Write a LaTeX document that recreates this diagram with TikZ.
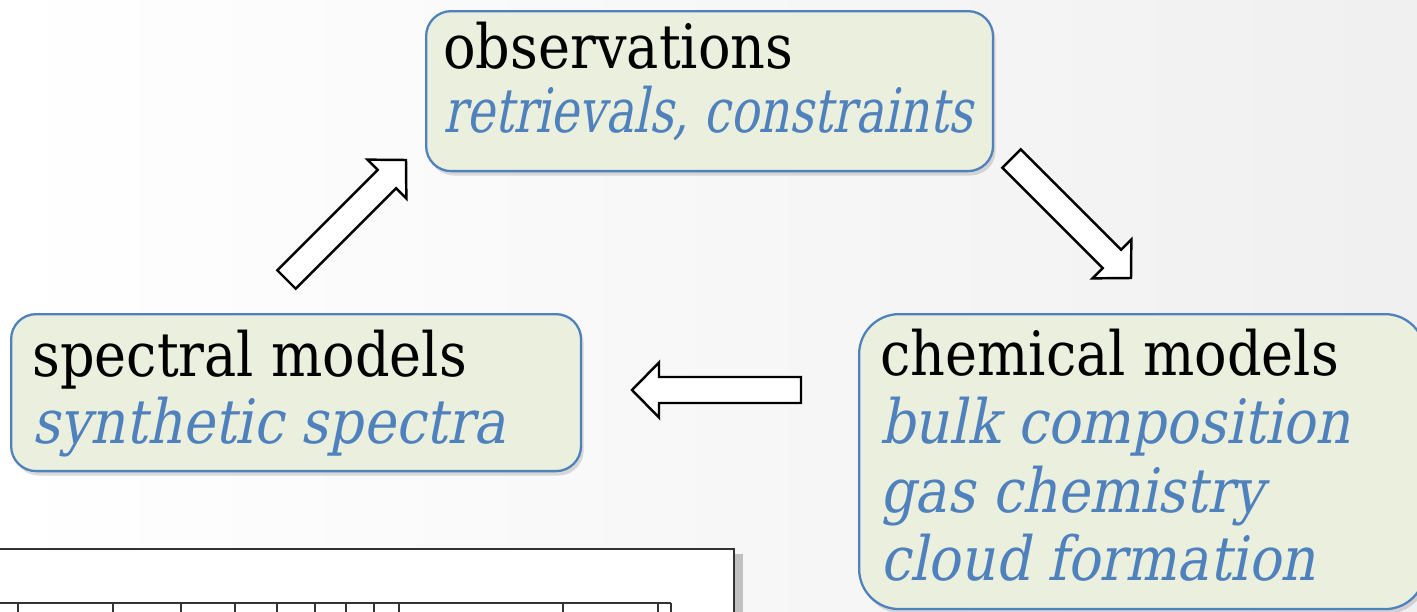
\documentclass[tikz,border=0pt]{standalone}
\usepackage{fontspec}
\setmainfont{DejaVu Serif}[FakeStretch=0.885]
\newfontfamily\slantfont{DejaVu Serif}[FakeSlant=0.2,FakeStretch=0.885]
\newfontfamily\slantnarrowfont{DejaVu Serif}[FakeSlant=0.2,FakeStretch=0.775]
\usetikzlibrary{shadows}
\definecolor{BoxBlue}{HTML}{4F81BD}
\definecolor{BoxFill}{HTML}{EBEFDE}
\definecolor{FrameGray}{HTML}{333333}
\tikzset{
  infobox/.style={draw=BoxBlue,line width=1.3pt,fill=BoxFill,anchor=north west,inner sep=0pt,
    drop shadow={shadow xshift=1.5pt,shadow yshift=-2.5pt,opacity=.28}},
  headtext/.style={anchor=base west,inner sep=0pt,font=\fontsize{34.8}{40}\selectfont},
  subtext/.style={anchor=base west,inner sep=0pt,text=BoxBlue,font=\slantfont\fontsize{34.8}{40}\selectfont},
  subnarrow/.style={subtext,font=\slantnarrowfont\fontsize{34.8}{40}\selectfont},
  blockarrow/.style={draw=black,line width=1.4pt,fill=white,line join=miter}
}
\begin{document}
\begin{tikzpicture}[x=0.02cm,y=-0.02cm]
  \useasboundingbox (0,0) rectangle (1417,612);
  \clip (0,0) rectangle (1417,612);
  \shade[left color=white,right color=black!6] (0,0) rectangle (1417,612);
  % boxes
  \node[infobox,rounded corners=0.5cm,minimum width=11.34cm,minimum height=3.2cm] (obs) at (425,10) {};
  \node[infobox,rounded corners=0.5cm,minimum width=11.4cm,minimum height=3.14cm] (spec) at (10,313) {};
  \node[infobox,rounded corners=0.8cm,minimum width=11.32cm,minimum height=5.9cm] (chem) at (858,313) {};
  \node[headtext] (obshead) at (443,68) {observations};
  \node[subnarrow] (obssub) at (443,132) {retrievals, constraints};
  \node[headtext] (spechead) at (32,376) {spectral models};
  \node[subtext] (specsub) at (32,443) {synthetic spectra};
  \node[headtext] (chemhead) at (880,375) {chemical models};
  \foreach \y/\lab in {443/bulk composition,512/gas chemistry,580/cloud formation}{\node[subtext] (chem\y) at (880,\y) {\lab};}
  % block arrows round the cycle
  \foreach \x/\y/\ang in {286.5/279.5/45,1011.5/158.5/-45,801/390/180}{\draw[blockarrow,shift={(\x,\y)},rotate=\ang] (0,13) -- (142,13) -- (142,27.5) -- (169,0) -- (142,-27.5) -- (142,-13) -- (0,-13) -- cycle;}
  % plot frame at the bottom
  \draw[line width=1.4pt,draw=FrameGray,fill=white,drop shadow={shadow xshift=5pt,shadow yshift=-3pt,opacity=.45}] (-10,549) rectangle (734,650);
  \draw[FrameGray,line width=.6pt] (0,603) -- (671,603);
  \foreach \t in {18,113,181,235,277,315,346,374,399,563,658,671}{\draw[FrameGray,line width=.6pt] (\t,603) -- (\t,615);}
\end{tikzpicture}
\end{document}
